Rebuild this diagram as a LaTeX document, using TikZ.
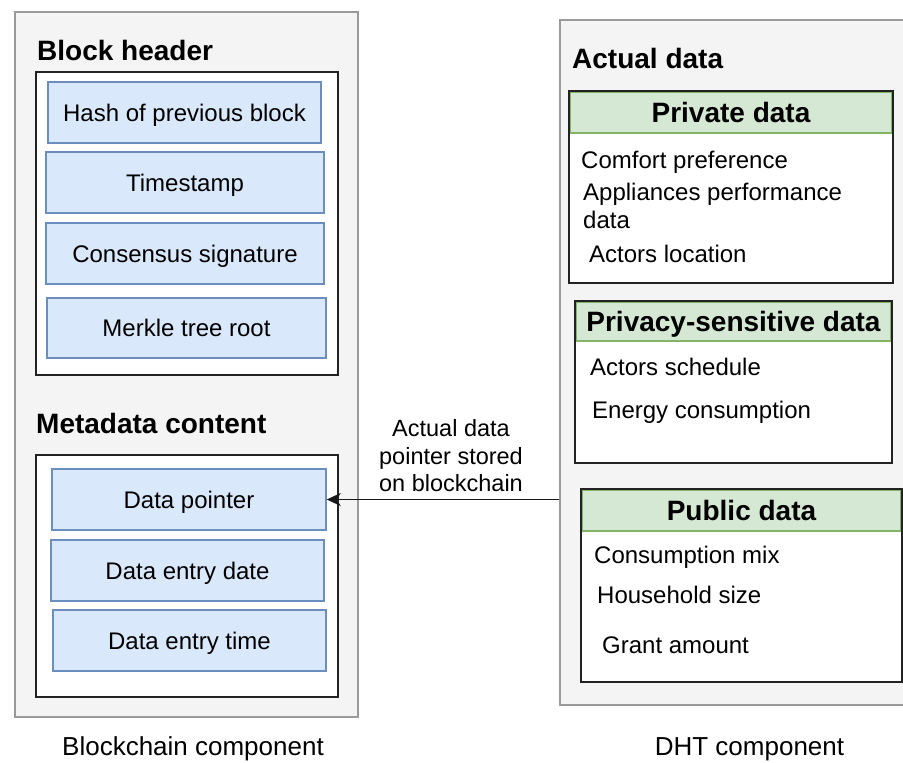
\documentclass[tikz,border=0pt]{standalone}
\usepackage{fontspec}
\setmainfont{Liberation Sans}
\usetikzlibrary{arrows.meta}
\definecolor{panelfill}{HTML}{F4F4F4}
\definecolor{panelline}{HTML}{9A9A9A}
\definecolor{bluefill}{HTML}{DAE8FC}
\definecolor{blueline}{HTML}{6C8EBF}
\definecolor{greenfill}{HTML}{D5E8D4}
\definecolor{greenline}{HTML}{82B366}
\definecolor{frameline}{HTML}{222222}
\begin{document}
\begin{tikzpicture}[x=1pt,y=-1pt,
  panel/.style={draw=panelline, fill=panelfill, line width=1.6pt, rectangle, inner sep=0},
  frame/.style={draw=frameline, fill=white, line width=1.8pt, rectangle, inner sep=0},
  bluebox/.style={draw=blueline, fill=bluefill, line width=1.4pt, rectangle, inner sep=0,
    text height=17.2pt, text depth=0pt, font=\fontsize{24}{28}\selectfont},
  greenhead/.style={draw=greenline, fill=greenfill, line width=1.4pt, rectangle, inner sep=0,
    text height=20pt, text depth=0pt, font=\fontsize{28}{32}\selectfont\bfseries},
  heading/.style={anchor=base west, inner sep=0, font=\fontsize{28}{32}\selectfont\bfseries},
  item/.style={anchor=base west, inner sep=0, font=\fontsize{24}{28}\selectfont},
  caption/.style={anchor=base, inner sep=0, font=\fontsize{26}{30}\selectfont},
  arrowlabel/.style={align=center, inner sep=0, font=\fontsize{23.5}{27.5}\selectfont},
  link/.style={draw=black!90, line width=1.6pt, -{Stealth[length=14pt,width=13pt,inset=4pt]}}
]
\useasboundingbox (0,0) rectangle (903,763);
\clip (0,0) rectangle (903,763);

% ---------- Blockchain component ----------
\node[panel, minimum width=343, minimum height=705] (left) at (186.5,364.5) {};
\node[heading] (bhtitle) at (37,60) {Block header};
\node[frame, minimum width=302, minimum height=303] (bhframe) at (187,223.5) {};
\node[bluebox, minimum width=273, minimum height=61] (hash) at (184.5,112.5) {Hash of previous block};
\node[bluebox, minimum width=278, minimum height=61] (ts) at (185,182.5) {Timestamp};
\node[bluebox, minimum width=278, minimum height=61] (cons) at (185,253.5) {Consensus signature};
\node[bluebox, minimum width=279, minimum height=60] (merkle) at (186.5,328) {Merkle tree root};

\node[heading] (mdtitle) at (36,433) {Metadata content};
\node[frame, minimum width=302, minimum height=242] (mdframe) at (187,576) {};
\node[bluebox, minimum width=274, minimum height=61] (ptr) at (189,499.5) {Data pointer};
\node[bluebox, minimum width=273, minimum height=61] (date) at (187.5,570.5) {Data entry date};
\node[bluebox, minimum width=273, minimum height=61] (time) at (189.5,640.5) {Data entry time};

\node[caption] (bccap) at (193,755) {Blockchain component};

% ---------- DHT component ----------
\node[panel, minimum width=390, minimum height=685] (right) at (755,362.5) {};
\node[heading] (adtitle) at (572,68) {Actual data};

\node[frame, minimum width=324, minimum height=192] (privframe) at (731,187) {};
\node[greenhead, minimum width=321, minimum height=40.5] (privhead) at (731,112.75) {Private data};
\node[item] (i1) at (581,168) {Comfort preference};
\node[item] (i2) at (583,200) {Appliances performance};
\node[item] (i3) at (583,228) {data};
\node[item] (i4) at (589,262) {Actors location};

\node[frame, minimum width=317, minimum height=162] (sensframe) at (733.5,382) {};
\node[greenhead, minimum width=314, minimum height=38.5] (senshead) at (733.5,321.75) {Privacy-sensitive data};
\node[item] (i5) at (590,375) {Actors schedule};
\node[item] (i6) at (592,418) {Energy consumption};

\node[frame, minimum width=321, minimum height=193] (pubframe) at (741.5,585.5) {};
\node[greenhead, minimum width=318, minimum height=40.5] (pubhead) at (741.5,510.75) {Public data};
\node[item] (i7) at (594,563) {Consumption mix};
\node[item] (i8) at (597,603) {Household size};
\node[item] (i9) at (602,653) {Grant amount};

\node[caption] (dhtcap) at (749.5,755) {DHT component};

% ---------- connector ----------
\draw[link] (right.west |- ptr.east) -- (ptr.east);
\node[arrowlabel] (lbl) at (451,456) {Actual data\\pointer stored\\on blockchain};
\end{tikzpicture}
\end{document}
